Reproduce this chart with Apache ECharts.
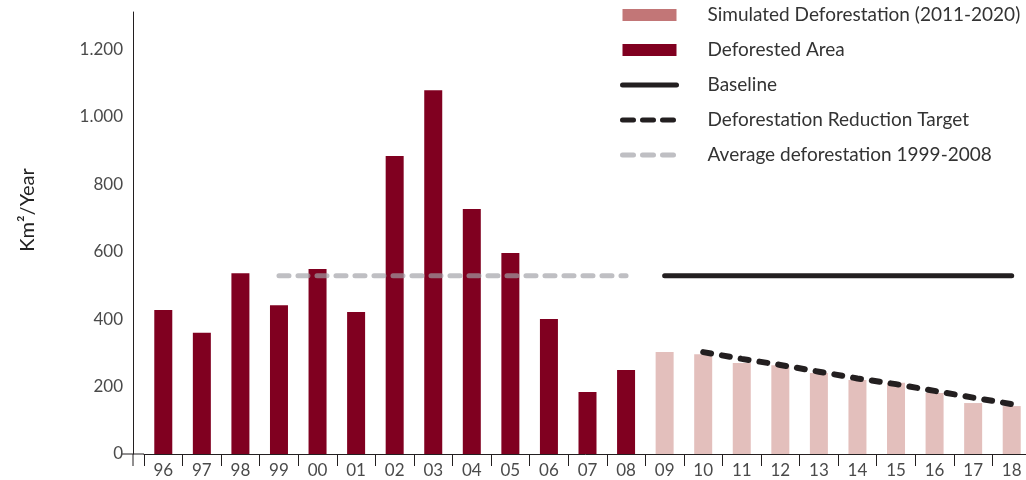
<!DOCTYPE html>
<html>
<head>
<meta charset="utf-8">
<title>Deforestation</title>
<script src="https://cdn.jsdelivr.net/npm/echarts@6/dist/echarts.min.js"></script>
<style>
    html, body { margin: 0; padding: 0; background: #fff; }
    #main { width: 1026px; height: 480px; }
</style>
</head>
<body>
<div id="main"></div>
<script>
// ------------------------------------------------------------------------
// Data
// ------------------------------------------------------------------------
var years = ['96', '97', '98', '99', '00', '01', '02', '03', '04', '05', '06', '07', '08',
             '09', '10', '11', '12', '13', '14', '15', '16', '17', '18'];

var deforested = [427, 359, 536, 441, 548, 421, 883, 1078, 726, 596, 400, 184, 249,
                  null, null, null, null, null, null, null, null, null, null];

var simulated = [null, null, null, null, null, null, null, null, null, null, null, null, null,
                 302, 296, 270, 263, 240, 219, 211, 181, 151, 142];

var baseline = [null, null, null, null, null, null, null, null, null, null, null, null, null,
                528, 528, 528, 528, 528, 528, 528, 528, 528, 528];

var target = [null, null, null, null, null, null, null, null, null, null, null, null, null,
              null, 302, 282, 264, 244, 224, 207, 187, 167, 148];

var average = [null, null, null, 528, 528, 528, 528, 528, 528, 528, 528, 528, 528,
               null, null, null, null, null, null, null, null, null, null];

var yTicks = [0, 200, 400, 600, 800, 1000, 1200];

var FONT = 'Lato, "Noto Sans", sans-serif';
var INK = '#231f20';
var GREY = 'rgba(160,160,166,0.68)';

var chart = echarts.init(document.getElementById('main'));

// line legend icons: no symbol dot, thick round-capped strokes
var noDot = { color: 'rgba(0,0,0,0)', borderWidth: 0 };

var option = {
    animation: false,
    grid: { left: 144, width: 887, top: 12, bottom: 26, outerBoundsMode: 'none', containLabel: false },
    legend: {
        orient: 'vertical',
        left: 620,
        top: 5,
        padding: 0,
        itemGap: 15,
        itemWidth: 54,
        itemHeight: 12,
        textStyle: { fontFamily: FONT, fontSize: 19, color: '#333', lineHeight: 20, padding: [0, 0, 0, 26] },
        data: [
            { name: 'Simulated Deforestation (2011-2020)', icon: 'rect', itemStyle: { color: '#c27677' } },
            { name: 'Deforested Area', icon: 'rect' },
            { name: 'Baseline', itemStyle: noDot,
              lineStyle: { width: 5, cap: 'round', type: 'solid' } },
            { name: 'Deforestation Reduction Target', itemStyle: noDot,
              lineStyle: { width: 5, cap: 'round', type: [11, 9] } },
            { name: 'Average deforestation 1999-2008', itemStyle: noDot,
              lineStyle: { width: 5, cap: 'round', type: [11, 9] } }
        ]
    },
    xAxis: {
        type: 'category',
        data: years,
        axisLine: { lineStyle: { color: INK, width: 1 } },
        axisTick: { show: true, length: 12, lineStyle: { color: INK } },
        axisLabel: { fontFamily: FONT, fontSize: 17, color: '#4a4a4a', margin: 8 }
    },
    yAxis: {
        type: 'value',
        min: 0,
        max: 1310,
        interval: 200,
        offset: 11,
        name: 'Km²/Year',
        nameLocation: 'middle',
        nameRotate: 90,
        nameGap: 95,
        nameTextStyle: { fontFamily: FONT, fontSize: 20, color: '#222', padding: [0, 0, 0, 46] },
        axisLine: { show: true, lineStyle: { color: INK, width: 1 } },
        axisTick: { show: false },
        splitLine: { show: false },
        axisLabel: {
            fontFamily: FONT, fontSize: 17, color: '#4a4a4a', margin: 10,
            showMaxLabel: false,
            formatter: function (v) {
                if (yTicks.indexOf(v) < 0) return '';
                return String(v).replace(/\B(?=(\d{3})+(?!\d))/g, '.');
            }
        }
    },
    series: [
        {
            name: 'Simulated Deforestation (2011-2020)',
            type: 'bar',
            data: simulated,
            barWidth: 18,
            barGap: '-100%',
            itemStyle: { color: '#e3bfbc' }
        },
        {
            name: 'Deforested Area',
            type: 'bar',
            data: deforested,
            barWidth: 18,
            barGap: '-100%',
            itemStyle: { color: '#800020' }
        },
        {
            name: 'Baseline',
            type: 'line',
            data: baseline,
            symbol: 'none',
            lineStyle: { color: INK, width: 5, cap: 'round' },
            itemStyle: { color: INK }
        },
        {
            name: 'Deforestation Reduction Target',
            type: 'line',
            data: target,
            symbol: 'none',
            lineStyle: { color: INK, width: 6, type: [8, 11], cap: 'round' },
            itemStyle: { color: INK }
        },
        {
            name: 'Average deforestation 1999-2008',
            type: 'line',
            data: average,
            symbol: 'none',
            lineStyle: { color: GREY, width: 5, type: [10, 9], cap: 'round' },
            itemStyle: { color: GREY }
        }
    ]
};
chart.setOption(option);

// small axis extensions (x axis reaches past the y axis, y axis hangs below)
var origin = chart.convertToPixel({ gridIndex: 0 }, [0, 0]);
var axisX = 144 - 11;
chart.setOption({
    graphic: [
        { type: 'line', shape: { x1: axisX - 11, y1: origin[1], x2: 144, y2: origin[1] },
          style: { stroke: INK, lineWidth: 1 } },
        { type: 'line', shape: { x1: axisX, y1: origin[1], x2: axisX, y2: origin[1] + 12 },
          style: { stroke: INK, lineWidth: 1 } }
    ]
});
</script>
</body>
</html>
